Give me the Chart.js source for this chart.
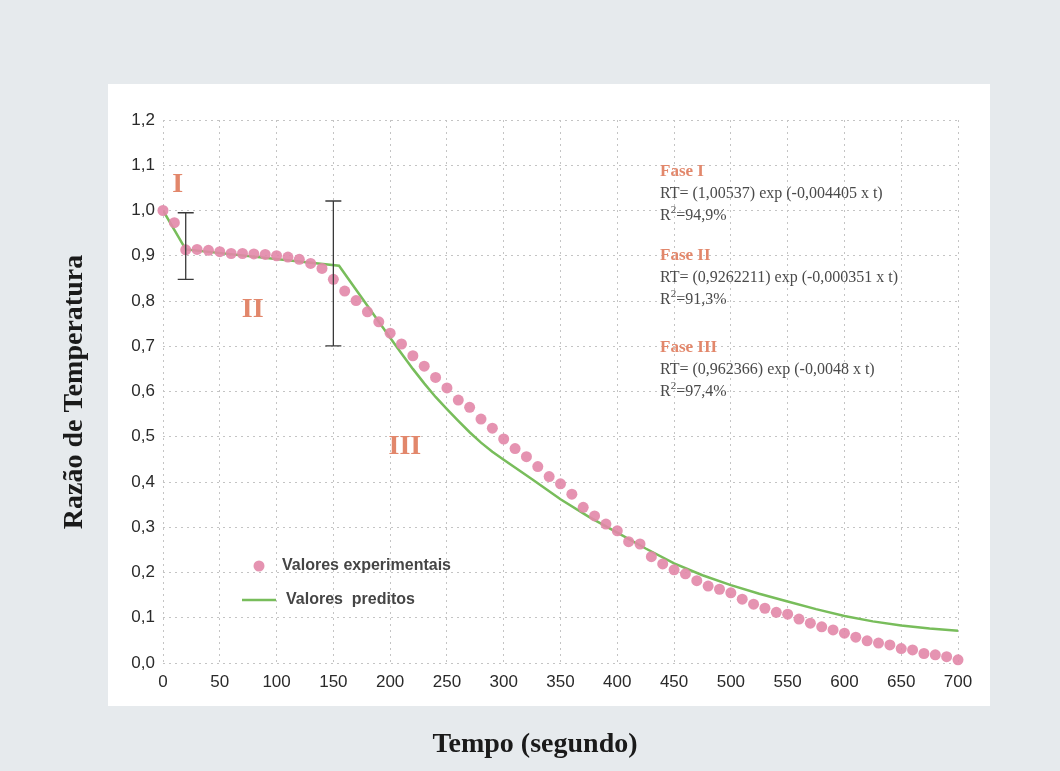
<!DOCTYPE html>
<html>
<head>
<meta charset="utf-8">
<script src="https://cdn.jsdelivr.net/npm/chart.js@4/dist/chart.umd.min.js"></script>
<style>
  html, body { margin: 0; padding: 0; background: #e6eaed; }
  canvas { display: block; }
</style>
</head>
<body>
<canvas id="grafico" width="1060" height="771"></canvas>
<script>
// tempo (s) dos valores experimentais
const tempo = [
  0, 10, 20, 30, 40, 50, 60, 70, 80, 90,
  100, 110, 120, 130, 140, 150, 160, 170, 180, 190,
  200, 210, 220, 230, 240, 250, 260, 270, 280, 290,
  300, 310, 320, 330, 340, 350, 360, 370, 380, 390,
  400, 410, 420, 430, 440, 450, 460, 470, 480, 490,
  500, 510, 520, 530, 540, 550, 560, 570, 580, 590,
  600, 610, 620, 630, 640, 650, 660, 670, 680, 690, 700
];
const experimentais = [
  1.000, 0.973, 0.913, 0.914, 0.912, 0.909, 0.905, 0.905, 0.904, 0.903,
  0.900, 0.897, 0.892, 0.883, 0.872, 0.848, 0.822, 0.801, 0.776, 0.754,
  0.729, 0.705, 0.679, 0.656, 0.631, 0.608, 0.581, 0.565, 0.539, 0.519,
  0.495, 0.474, 0.456, 0.434, 0.412, 0.396, 0.373, 0.344, 0.325, 0.307,
  0.292, 0.268, 0.263, 0.235, 0.219, 0.206, 0.197, 0.182, 0.170, 0.163,
  0.155, 0.141, 0.130, 0.121, 0.112, 0.108, 0.097, 0.088, 0.080, 0.073,
  0.066, 0.057, 0.049, 0.044, 0.040, 0.032, 0.029, 0.021, 0.018, 0.014, 0.007
];

// curva dos valores preditos (fases I, II e III)
const tempoPred = [0, 20, 155, 190, 200, 210, 220, 230, 240, 250, 260, 270, 280, 290, 300, 325, 350, 375, 400, 425, 450, 475, 500, 525, 550, 575, 600, 625, 650, 675, 700];
const preditos  = [1.000, 0.914, 0.878, 0.754, 0.719, 0.684, 0.650, 0.618, 0.588, 0.561, 0.535, 0.510, 0.487, 0.467, 0.449, 0.406, 0.362, 0.323, 0.288, 0.253, 0.220, 0.194, 0.172, 0.153, 0.136, 0.119, 0.104, 0.092, 0.083, 0.076, 0.071];

// barras verticais nas transicoes de fase
const errTempo = [20, 150];
const errMin = [0.848, 0.701];
const errMax = [0.995, 1.021];

// equacoes das fases
const faseNomes = ['Fase I', 'Fase II', 'Fase III'];
const faseEquacoes = [
  'RT= (1,00537) exp (-0,004405 x t)',
  'RT= (0,9262211) exp (-0,000351 x t)',
  'RT= (0,962366) exp (-0,0048 x t)'
];
const faseR2 = ['=94,9%', '=91,3%', '=97,4%'];
const romanos = ['I', 'II', 'III'];

const salmao = '#e2876b';
const rosa = 'rgba(226,135,168,0.9)';
const verde = '#78bd5b';

const decor = {
  id: 'decor',
  beforeDraw(chart) {
    const c = chart.ctx;
    c.save();
    c.fillStyle = '#e6eaed';
    c.fillRect(0, 0, chart.width, chart.height);
    c.fillStyle = '#ffffff';
    c.fillRect(108, 84, 882, 622);
    c.restore();
  },
  afterDatasetsDraw(chart) {
    const c = chart.ctx;
    const x = chart.scales.x, y = chart.scales.y;
    c.save();

    // barras
    c.strokeStyle = '#3a3a3a';
    c.lineWidth = 1.3;
    errTempo.forEach((t, i) => {
      const px = x.getPixelForValue(t);
      const y1 = y.getPixelForValue(errMax[i]);
      const y2 = y.getPixelForValue(errMin[i]);
      c.beginPath();
      c.moveTo(px, y1); c.lineTo(px, y2);
      c.moveTo(px - 8, y1); c.lineTo(px + 8, y1);
      c.moveTo(px - 8, y2); c.lineTo(px + 8, y2);
      c.stroke();
    });

    // numeros romanos das fases
    const posRom = [[13, 1.056], [79, 0.78], [213, 0.477]];
    c.fillStyle = salmao;
    c.font = 'bold 28px "Liberation Serif", serif';
    c.textAlign = 'center';
    c.textBaseline = 'middle';
    romanos.forEach((r, i) => {
      c.fillText(r, x.getPixelForValue(posRom[i][0]), y.getPixelForValue(posRom[i][1]));
    });

    // equacoes
    const topo = [172, 256, 348];
    c.textAlign = 'left';
    faseNomes.forEach((nome, i) => {
      const y0 = topo[i];
      c.fillStyle = salmao;
      c.font = 'bold 17px "Liberation Serif", serif';
      c.fillText(nome, 660, y0);
      c.fillStyle = '#4a4a4a';
      c.font = '16px "Liberation Serif", serif';
      c.fillText(faseEquacoes[i], 660, y0 + 22);
      c.fillText('R', 660, y0 + 44);
      const wR = c.measureText('R').width;
      c.font = '11px "Liberation Serif", serif';
      c.fillText('2', 660 + wR, y0 + 38);
      const w2 = c.measureText('2').width;
      c.font = '16px "Liberation Serif", serif';
      c.fillText(faseR2[i], 660 + wR + w2, y0 + 44);
    });

    // legenda
    c.fillStyle = rosa;
    c.beginPath();
    c.arc(259, 566, 5.5, 0, Math.PI * 2);
    c.fill();
    c.strokeStyle = verde;
    c.lineWidth = 2.5;
    c.beginPath();
    c.moveTo(242, 600); c.lineTo(276, 600);
    c.stroke();
    c.fillStyle = '#454545';
    c.font = 'bold 16px "Liberation Sans", Arial, sans-serif';
    c.fillText('Valores experimentais', 282, 566);
    c.fillText('Valores  preditos', 286, 600);

    // titulos dos eixos
    c.fillStyle = '#1a1a1a';
    c.font = 'bold 28px "Liberation Serif", serif';
    c.textAlign = 'center';
    c.fillText('Tempo (segundo)', 535, 745);
    c.translate(75, 392);
    c.rotate(-Math.PI / 2);
    c.fillText('Razão de Temperatura', 0, 0);
    c.restore();
  }
};

const gradeDash = { display: false, dash: [2, 4] };

new Chart(document.getElementById('grafico'), {
  type: 'scatter',
  data: {
    datasets: [
      {
        label: 'Valores experimentais',
        data: tempo.map((t, i) => ({ x: t, y: experimentais[i] })),
        backgroundColor: rosa,
        borderColor: 'rgba(0,0,0,0)',
        pointRadius: 5.5,
        clip: false,
        order: 1
      },
      {
        label: 'Valores preditos',
        data: tempoPred.map((t, i) => ({ x: t, y: preditos[i] })),
        showLine: true,
        borderColor: verde,
        borderWidth: 2.5,
        pointRadius: 0,
        tension: 0,
        order: 2
      }
    ]
  },
  options: {
    responsive: false,
    animation: false,
    layout: { padding: { left: 0, top: 120, right: 102, bottom: 68 } },
    plugins: { legend: { display: false }, tooltip: { enabled: false } },
    scales: {
      x: {
        type: 'linear',
        min: 0, max: 700,
        afterFit: (s) => { s.height = 40; },
        grid: { color: '#c4c4c4', drawTicks: false },
        border: gradeDash,
        ticks: {
          stepSize: 50,
          padding: 9,
          color: '#2a2a2a',
          font: { family: '"Liberation Sans", Arial, sans-serif', size: 17 }
        }
      },
      y: {
        min: 0, max: 1.2,
        afterFit: (s) => { s.width = 163; },
        grid: { color: '#c4c4c4', drawTicks: false },
        border: gradeDash,
        ticks: {
          stepSize: 0.1,
          padding: 8,
          color: '#2a2a2a',
          font: { family: '"Liberation Sans", Arial, sans-serif', size: 17 },
          callback: (v) => v.toFixed(1).replace('.', ',')
        }
      }
    }
  },
  plugins: [decor]
});
</script>
</body>
</html>
